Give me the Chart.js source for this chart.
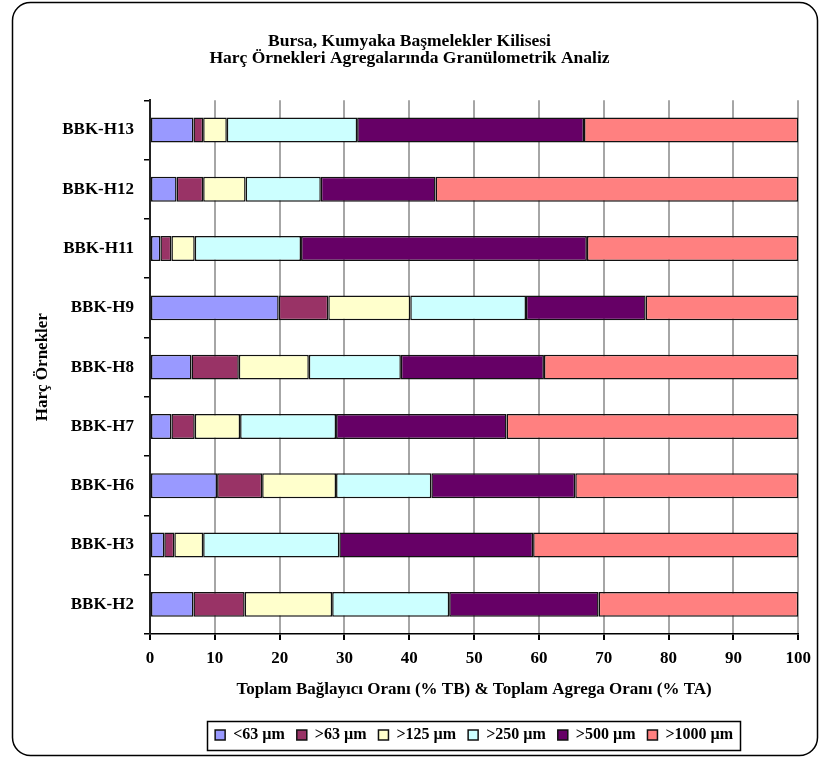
<!DOCTYPE html>
<html><head><meta charset="utf-8">
<script src="https://cdn.jsdelivr.net/npm/chart.js@4/dist/chart.umd.min.js"></script>
<style>html,body{margin:0;padding:0;background:#fff}#wrap{position:relative;width:819px;height:757px}</style>
</head><body><div id="wrap"><canvas id="c" width="819" height="757"></canvas></div>
<script>
const categories = ['BBK-H13','BBK-H12','BBK-H11','BBK-H9','BBK-H8','BBK-H7','BBK-H6','BBK-H3','BBK-H2'];
const seriesNames = ['<63 µm','>63 µm','>125 µm','>250 µm','>500 µm','>1000 µm'];
const lt63   = [6.7, 4.1, 1.6, 19.85, 6.4, 3.3, 10.35, 2.2, 6.7];
const gt63   = [1.5, 4.1, 1.7, 7.65, 7.3, 3.6, 6.95, 1.55, 7.9];
const gt125  = [3.65, 6.55, 3.6, 12.65, 10.8, 7.0, 11.4, 4.45, 13.5];
const gt250  = [20.1, 11.6, 16.4, 17.85, 14.2, 14.8, 14.7, 21.0, 18.05];
const gt500  = [35.0, 17.7, 44.1, 18.46, 22.07, 26.3, 22.2, 29.9, 23.05];
const gt1000 = [33.05, 55.95, 32.6, 23.54, 39.23, 45.0, 34.4, 40.9, 30.8];
const xTicks = [0,10,20,30,40,50,60,70,80,90,100];
const colors = ['#9999FF','#993366','#FFFFCC','#CCFFFF','#660066','#FF8080'];
const seriesValues = [lt63, gt63, gt125, gt250, gt500, gt1000];

const FONT = "'Liberation Serif', 'Times New Roman', serif";

const frame = {
  id: 'frame',
  afterLayout(chart) {
    const lg = chart.legend;
    if (lg) {
      lg.left = chart.chartArea.left;
      lg.right = chart.chartArea.right;
    }
  },
  beforeDraw(chart) {
    const ctx = chart.ctx;
    ctx.save();
    ctx.fillStyle = '#fff';
    ctx.fillRect(0, 0, chart.width, chart.height);
    ctx.beginPath();
    ctx.roundRect(12.5, 2.5, 805, 753, 18);
    ctx.lineWidth = 1.5;
    ctx.strokeStyle = '#000';
    ctx.stroke();
    ctx.restore();
  },
  afterDraw(chart) {
    const lg = chart.legend;
    if (!lg || !lg.legendHitBoxes.length) return;
    const hb = lg.legendHitBoxes;
    let l = Infinity, r = -Infinity, t = Infinity, b = -Infinity;
    hb.forEach(h => { l = Math.min(l, h.left); r = Math.max(r, h.left + h.width); t = Math.min(t, h.top); b = Math.max(b, h.top + h.height); });
    const ctx = chart.ctx;
    ctx.save();
    ctx.lineWidth = 1.5;
    ctx.strokeStyle = '#000';
    ctx.strokeRect(Math.round(l - 8) + 0.5, Math.round(t - 6) + 0.5, Math.round(r - l + 15), Math.round(b - t + 13));
    ctx.restore();
  }
};

new Chart(document.getElementById('c'), {
  type: 'bar',
  data: {
    labels: categories,
    datasets: seriesNames.map((n, i) => ({
      label: n,
      data: seriesValues[i],
      backgroundColor: colors[i],
      borderColor: '#111',
      borderWidth: 1.5,
      borderSkipped: false,
      barPercentage: 0.42,
      categoryPercentage: 1
    }))
  },
  options: {
    indexAxis: 'y',
    responsive: false,
    animation: false,
    devicePixelRatio: 1,
    layout: { padding: { left: 20, right: 20, top: 0, bottom: 4 } },
    plugins: {
      title: {
        display: true,
        text: ['Bursa, Kumyaka Başmelekler Kilisesi', 'Harç Örnekleri Agregalarında Granülometrik Analiz'],
        color: '#000',
        font: { family: FONT, size: 17.5, weight: 'bold', lineHeight: 0.98 },
        padding: { top: 33, bottom: 33 }
      },
      legend: {
        position: 'bottom',
        labels: {
          color: '#000',
          font: { family: FONT, size: 16, weight: 'bold' },
          boxWidth: 10, boxHeight: 10, padding: 12
        }
      },
      tooltip: { enabled: false }
    },
    scales: {
      x: {
        stacked: true,
        min: 0, max: 100,
        afterBuildTicks(scale) { scale.ticks = xTicks.map(v => ({ value: v })); },
        afterFit(scale) { scale.height = 81; },
        ticks: { color: '#000', font: { family: FONT, size: 17, weight: 'bold' }, padding: 8, maxRotation: 0 },
        grid: { color: '#a6a6a6', lineWidth: 2, tickColor: '#000', tickLength: 6, drawTicks: true },
        border: { display: true, color: '#000', width: 1.5 },
        title: { display: true, text: 'Toplam Bağlayıcı Oranı (% TB) & Toplam Agrega Oranı (% TA)', color: '#000',
                 font: { family: FONT, size: 17, weight: 'bold', lineHeight: 1.2 }, padding: { top: 0, bottom: 15 } }
      },
      y: {
        stacked: true,
        afterFit(scale) { scale.width = 130; },
        ticks: { color: '#000', font: { family: FONT, size: 17, weight: 'bold' }, padding: 10 },
        grid: { offset: true, drawOnChartArea: false, drawTicks: true, tickLength: 6, color: '#000', tickColor: '#000', lineWidth: 1.5 },
        border: { display: true, color: '#222', width: 2 },
        title: { display: true, text: 'Harç Örnekler', color: '#000',
                 font: { family: FONT, size: 17, weight: 'bold', lineHeight: 1.2 }, padding: { top: 12, bottom: 0 } }
      }
    }
  },
  plugins: [frame]
});
</script>
</body></html>
